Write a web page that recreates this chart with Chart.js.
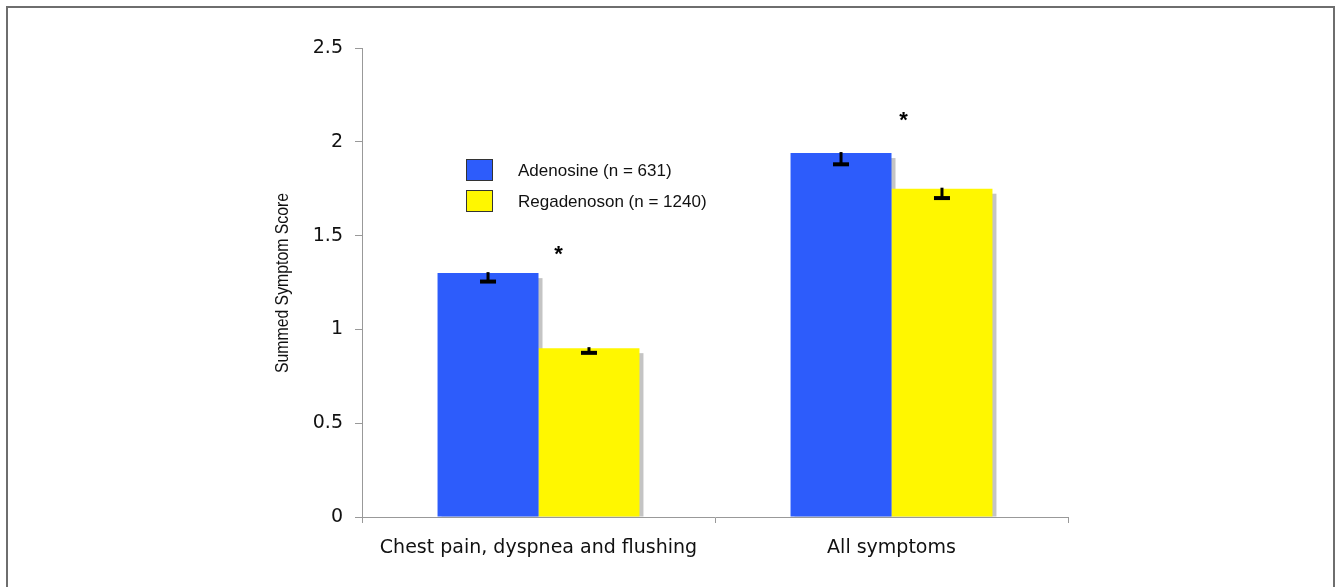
<!DOCTYPE html>
<html>
<head>
<meta charset="utf-8">
<script src="https://cdn.jsdelivr.net/npm/chart.js@4.4.1/dist/chart.umd.min.js"></script>
<style>
  html, body { margin: 0; padding: 0; background: #fff; }
  #wrap { width: 1339px; height: 587px; position: relative; }
</style>
</head>
<body>
<div id="wrap"><canvas id="symptomChart"></canvas></div>
<script>
// Summed symptom score, adenosine vs regadenoson
const categories = ['Chest pain, dyspnea and flushing', 'All symptoms'];
const seriesNames = ['Adenosine (n = 631)', 'Regadenoson (n = 1240)'];
const adenosineScores = [1.30, 1.94];
const regadenosonScores = [0.90, 1.75];
const adenosineErrors = [0.045, 0.06];
const regadenosonErrors = [0.025, 0.05];
const significanceLevels = [1.42, 2.13]; // where the * sits
const yTicks = [0, 0.5, 1, 1.5, 2, 2.5];
const yTitle = 'Summed Symptom Score';

const BLUE = '#2d5cfb';
const YELLOW = '#fff700';

// grey drop shadow to the right of every bar
const shadowPlugin = {
    id: 'barShadow',
    beforeDatasetsDraw(chart) {
        const ctx = chart.ctx;
        ctx.save();
        ctx.fillStyle = '#c4c4c4';
        chart.data.datasets.forEach((ds, i) => {
            chart.getDatasetMeta(i).data.forEach(bar => {
                const left = bar.x - bar.width / 2;
                ctx.fillRect(left + 4, bar.y + 5, bar.width, bar.base - bar.y - 5);
            });
        });
        ctx.restore();
    }
};

// lower error bars only, T-shaped
const errorBarPlugin = {
    id: 'errorBars',
    afterDatasetsDraw(chart) {
        const ctx = chart.ctx;
        const yScale = chart.scales.y;
        const errs = [adenosineErrors, regadenosonErrors];
        ctx.save();
        ctx.fillStyle = '#000';
        chart.data.datasets.forEach((ds, i) => {
            chart.getDatasetMeta(i).data.forEach((bar, j) => {
                const yTop = yScale.getPixelForValue(ds.data[j]);
                const yLow = yScale.getPixelForValue(ds.data[j] - errs[i][j]);
                ctx.fillRect(bar.x - 1.5, yTop - 1, 3, yLow - yTop + 1);
                ctx.fillRect(bar.x - 8, yLow - 2, 16, 4);
            });
        });
        ctx.restore();
    }
};

// asterisks, legend, condensed axis title and outer frame
const annotationPlugin = {
    id: 'annotations',
    afterDraw(chart) {
        const ctx = chart.ctx;
        const x = chart.scales.x, y = chart.scales.y;
        ctx.save();
        ctx.fillStyle = '#000';
        ctx.font = 'bold 22px "Liberation Sans", Arial, sans-serif';
        ctx.textAlign = 'center';
        ctx.textBaseline = 'middle';
        const dx = [20, 12];
        significanceLevels.forEach((v, i) => {
            ctx.fillText('*', x.getPixelForValue(i) + dx[i], y.getPixelForValue(v) + 4);
        });

        // legend
        ctx.font = '17px "Liberation Sans", Arial, sans-serif';
        ctx.textAlign = 'left';
        const colors = [BLUE, YELLOW];
        const rows = [170, 201];
        seriesNames.forEach((name, i) => {
            ctx.fillStyle = colors[i];
            ctx.fillRect(466.5, rows[i] - 10.5, 26, 21);
            ctx.strokeStyle = '#333';
            ctx.lineWidth = 1;
            ctx.strokeRect(466.5, rows[i] - 10.5, 26, 21);
            ctx.fillStyle = '#111';
            ctx.fillText(name, 518, rows[i] + 1);
        });

        // y axis title, narrow face
        ctx.save();
        ctx.translate(283, 283);
        ctx.rotate(-Math.PI / 2);
        ctx.font = '19px "Liberation Sans", Arial, sans-serif';
        const w = ctx.measureText(yTitle).width;
        ctx.scale(180 / w, 1);
        ctx.textAlign = 'center';
        ctx.textBaseline = 'middle';
        ctx.fillStyle = '#111';
        ctx.fillText(yTitle, 0, 0);
        ctx.restore();

        // frame
        ctx.strokeStyle = '#6e6e6e';
        ctx.lineWidth = 2;
        ctx.beginPath();
        ctx.moveTo(7, 600);
        ctx.lineTo(7, 7);
        ctx.lineTo(1334, 7);
        ctx.lineTo(1334, 600);
        ctx.stroke();
        ctx.restore();
    }
};

const symptomConfig = {
    type: 'bar',
    data: {
        labels: categories,
        datasets: [{
            label: seriesNames[0],
            data: adenosineScores,
            backgroundColor: BLUE,
            categoryPercentage: 0.572,
            barPercentage: 1.0
        }, {
            label: seriesNames[1],
            data: regadenosonScores,
            backgroundColor: YELLOW,
            categoryPercentage: 0.572,
            barPercentage: 1.0
        }]
    },
    options: {
        responsive: false,
        animation: false,
        layout: {
            padding: { left: 270, right: 271, top: 48, bottom: 0 }
        },
        plugins: {
            legend: { display: false },
            tooltip: { enabled: false }
        },
        scales: {
            x: {
                afterFit: scale => { scale.height = 70; },
                grid: {
                    drawOnChartArea: false,
                    drawTicks: true,
                    tickLength: 6,
                    color: '#999'
                },
                border: { color: '#999', width: 1 },
                ticks: {
                    padding: 14,
                    color: '#111',
                    font: { family: "'DejaVu Sans', Verdana, sans-serif", size: 19 }
                }
            },
            y: {
                min: 0,
                max: 2.5,
                afterFit: scale => { scale.width = 92; },
                afterBuildTicks: scale => {
                    scale.ticks = yTicks.map(v => ({ value: v }));
                },
                grid: {
                    drawOnChartArea: false,
                    drawTicks: true,
                    tickLength: 7,
                    color: '#999'
                },
                border: { color: '#999', width: 1 },
                ticks: {
                    padding: 12,
                    color: '#111',
                    font: { family: "'DejaVu Sans', Verdana, sans-serif", size: 19 },
                    callback: value => String(value)
                }
            }
        }
    },
    plugins: [shadowPlugin, errorBarPlugin, annotationPlugin]
};

const canvas = document.getElementById('symptomChart');
canvas.width = 1339;
canvas.height = 587;
new Chart(canvas, symptomConfig);
</script>
</body>
</html>
